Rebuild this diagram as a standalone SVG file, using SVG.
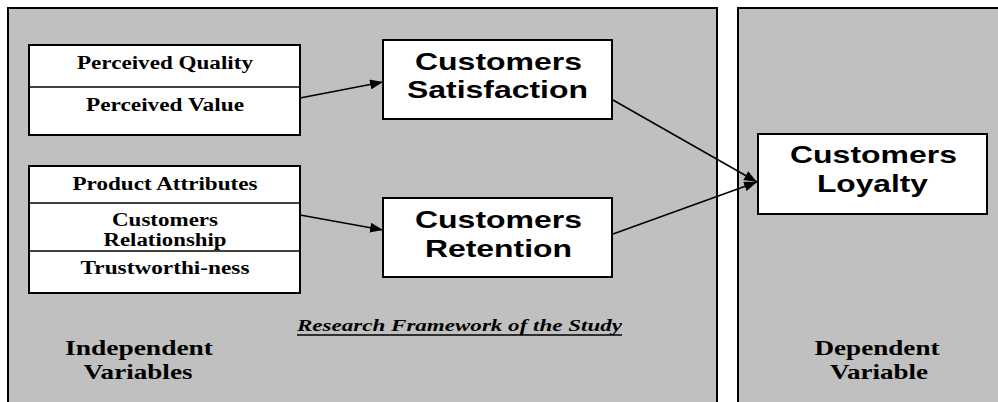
<svg xmlns="http://www.w3.org/2000/svg" width="998" height="402" viewBox="0 0 998 402">
<style>
.panel{fill:#c0c0c0;stroke:#000;stroke-width:2}
.box{fill:#fff;stroke:#000;stroke-width:2}
.div{stroke:#000;stroke-width:1.5}
.tb{font-family:"Liberation Serif","Times New Roman",serif;font-weight:bold;font-size:18px;fill:#000;text-anchor:middle}
.lbl{font-family:"Liberation Serif","Times New Roman",serif;font-weight:bold;font-size:21px;fill:#000;text-anchor:middle}
.ar{font-family:"Liberation Sans",Arial,sans-serif;font-weight:bold;font-size:24px;fill:#000;text-anchor:middle}
.ttl{font-family:"Liberation Serif","Times New Roman",serif;font-weight:bold;font-style:italic;font-size:17px;fill:#000;text-anchor:middle}
.con{stroke:#000;stroke-width:1.5;fill:none;marker-end:url(#ah)}
</style>
<defs>
<marker id="ah" markerUnits="userSpaceOnUse" markerWidth="14" markerHeight="10" refX="13" refY="5" orient="auto">
<path d="M0,0 L13,5 L0,10 z" fill="#000"/>
</marker>
</defs>
<rect width="998" height="402" fill="#fff"/>
<g id="panel-independent">
<rect class="panel" x="8" y="8" width="709" height="400"/>
<text class="lbl" x="139" y="355" textLength="148" lengthAdjust="spacingAndGlyphs">Independent</text>
<text class="lbl" x="138" y="379" textLength="109" lengthAdjust="spacingAndGlyphs">Variables</text>
</g>
<g id="panel-dependent">
<rect class="panel" x="738" y="8" width="270" height="400"/>
<text class="lbl" x="877" y="355" textLength="125" lengthAdjust="spacingAndGlyphs">Dependent</text>
<text class="lbl" x="879" y="379" textLength="98" lengthAdjust="spacingAndGlyphs">Variable</text>
</g>
<g id="title">
<text class="ttl" x="459.5" y="331" textLength="325" lengthAdjust="spacingAndGlyphs">Research Framework of the Study</text>
<line x1="297" y1="335" x2="622" y2="335" stroke="#000" stroke-width="1.5"/>
</g>
<g id="group-perceived">
<rect class="box" x="29" y="45" width="271" height="90"/>
<line class="div" x1="29" y1="87" x2="300" y2="87"/>
<text class="tb" x="165" y="69" textLength="176" lengthAdjust="spacingAndGlyphs">Perceived Quality</text>
<text class="tb" x="165" y="111" textLength="158" lengthAdjust="spacingAndGlyphs">Perceived Value</text>
</g>
<g id="group-product">
<rect class="box" x="29" y="166" width="271" height="127"/>
<line class="div" x1="29" y1="203" x2="300" y2="203"/>
<line class="div" x1="29" y1="251" x2="300" y2="251"/>
<text class="tb" x="165" y="190" textLength="185" lengthAdjust="spacingAndGlyphs">Product Attributes</text>
<text class="tb" x="165" y="226" textLength="106" lengthAdjust="spacingAndGlyphs">Customers</text>
<text class="tb" x="165" y="246" textLength="123" lengthAdjust="spacingAndGlyphs">Relationship</text>
<text class="tb" x="165" y="274" textLength="169" lengthAdjust="spacingAndGlyphs">Trustworthi-ness</text>
</g>
<g id="satisfaction">
<rect class="box" x="383" y="40" width="229" height="79"/>
<text class="ar" x="498.5" y="70" textLength="167" lengthAdjust="spacingAndGlyphs">Customers</text>
<text class="ar" x="497.5" y="98" textLength="181" lengthAdjust="spacingAndGlyphs">Satisfaction</text>
</g>
<g id="retention">
<rect class="box" x="383" y="198" width="229" height="79"/>
<text class="ar" x="498.5" y="228" textLength="167" lengthAdjust="spacingAndGlyphs">Customers</text>
<text class="ar" x="498.5" y="257" textLength="147" lengthAdjust="spacingAndGlyphs">Retention</text>
</g>
<g id="loyalty">
<rect class="box" x="758" y="134" width="229" height="80"/>
<text class="ar" x="873.5" y="163" textLength="167" lengthAdjust="spacingAndGlyphs">Customers</text>
<text class="ar" x="872.5" y="192" textLength="111" lengthAdjust="spacingAndGlyphs">Loyalty</text>
</g>
<g id="connectors">
<line class="con" x1="300" y1="98" x2="383" y2="82"/>
<line class="con" x1="300" y1="215" x2="383" y2="230"/>
<line class="con" x1="613" y1="100" x2="757" y2="182"/>
<line class="con" x1="613" y1="234" x2="757" y2="182"/>
</g>
</svg>
